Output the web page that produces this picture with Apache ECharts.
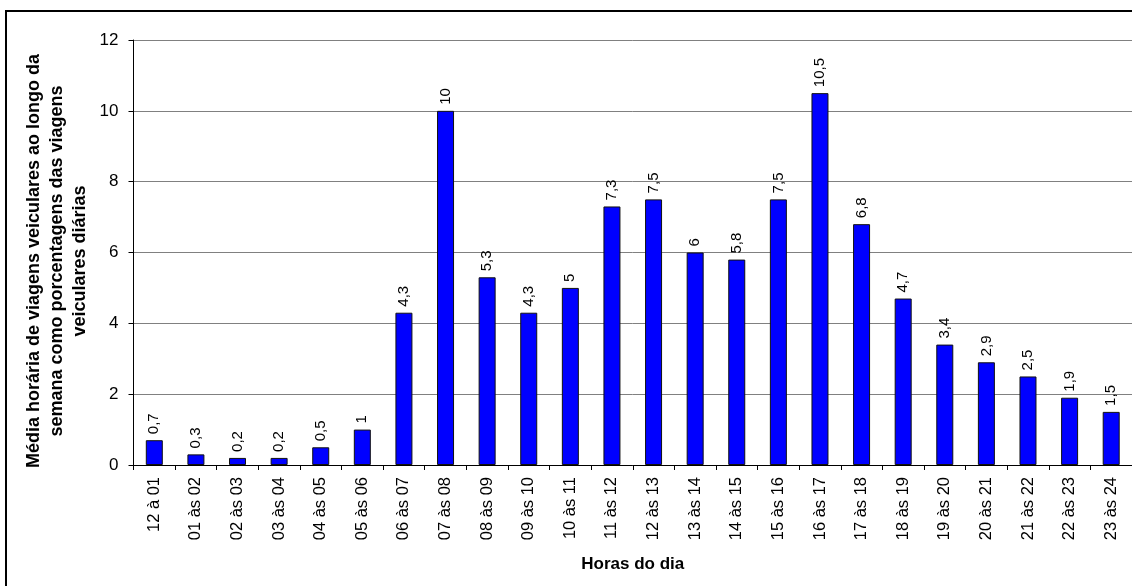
<!DOCTYPE html>
<html>
<head>
<meta charset="utf-8">
<script src="https://cdn.jsdelivr.net/npm/echarts@6/dist/echarts.min.js"></script>
<style>
html,body{margin:0;padding:0;background:#fff;}
#chart{width:1132px;height:586px;}
</style>
</head>
<body>
<div id="chart"></div>
<script>
const categories = ["12 à 01","01 às 02","02 às 03","03 às 04","04 às 05","05 às 06","06 às 07","07 às 08","08 às 09","09 às 10","10 às 11","11 às 12","12 às 13","13 às 14","14 às 15","15 às 16","16 às 17","17 às 18","18 às 19","19 às 20","20 às 21","21 às 22","22 às 23","23 às 24"];
const values = [0.7,0.3,0.2,0.2,0.5,1,4.3,10,5.3,4.3,5,7.3,7.5,6,5.8,7.5,10.5,6.8,4.7,3.4,2.9,2.5,1.9,1.5];
const yTicks = [0,2,4,6,8,10,12];
const xTitle = "Horas do dia";
const yTitleLines = ["Média horária de viagens veiculares ao longo da","semana como porcentagens das viagens","veiculares diárias"];

const FONT = "'Liberation Sans', Arial, sans-serif";
const chart = echarts.init(document.getElementById('chart'));
chart.setOption({
  animation: false,
  backgroundColor: '#fff',
  grid: { left: 133.5, top: 40, width: 1001, height: 425, containLabel: false },
  xAxis: {
    type: 'category',
    data: categories,
    axisLine: { lineStyle: { color: '#000', width: 1 } },
    axisTick: { show: true, length: 5, lineStyle: { color: '#000' }, alignWithLabel: false },
    axisLabel: { rotate: 90, margin: 12, fontFamily: FONT, fontSize: 16.5, color: '#000', interval: 0 },
    name: xTitle,
    nameLocation: 'middle',
    nameGap: 91,
    nameTextStyle: { fontFamily: FONT, fontSize: 17, fontWeight: 'bold', color: '#000' }
  },
  yAxis: {
    type: 'value',
    min: yTicks[0],
    max: yTicks[yTicks.length - 1],
    interval: 2,
    axisLine: { show: true, lineStyle: { color: '#000', width: 1 } },
    axisTick: { show: true, length: 5, lineStyle: { color: '#000' } },
    axisLabel: { margin: 15, fontFamily: FONT, fontSize: 17, color: '#000' },
    splitLine: { show: true, lineStyle: { color: '#808080', width: 1 } }
  },
  series: [{
    type: 'bar',
    data: values,
    barWidth: 17,
    itemStyle: { color: '#0000FF', borderColor: '#111', borderWidth: 1 },
    label: {
      show: true,
      position: 'top',
      distance: 6,
      rotate: 90,
      align: 'left',
      verticalAlign: 'middle',
      fontFamily: FONT,
      fontSize: 15,
      color: '#000',
      formatter: p => String(p.value).replace('.', ',')
    }
  }],
  graphic: [
    {
      type: 'rect',
      shape: { x: 6, y: 11, width: 1200, height: 700 },
      style: { fill: 'none', stroke: '#000', lineWidth: 2 },
      silent: true, z: 100
    },
    {
      type: 'text',
      x: 57, y: 261,
      rotation: Math.PI / 2,
      style: {
        text: yTitleLines.join('\n'),
        font: "bold 18px " + FONT,
        fill: '#000',
        align: 'center',
        verticalAlign: 'middle',
        lineHeight: 23
      }
    }
  ]
});
</script>
</body>
</html>
